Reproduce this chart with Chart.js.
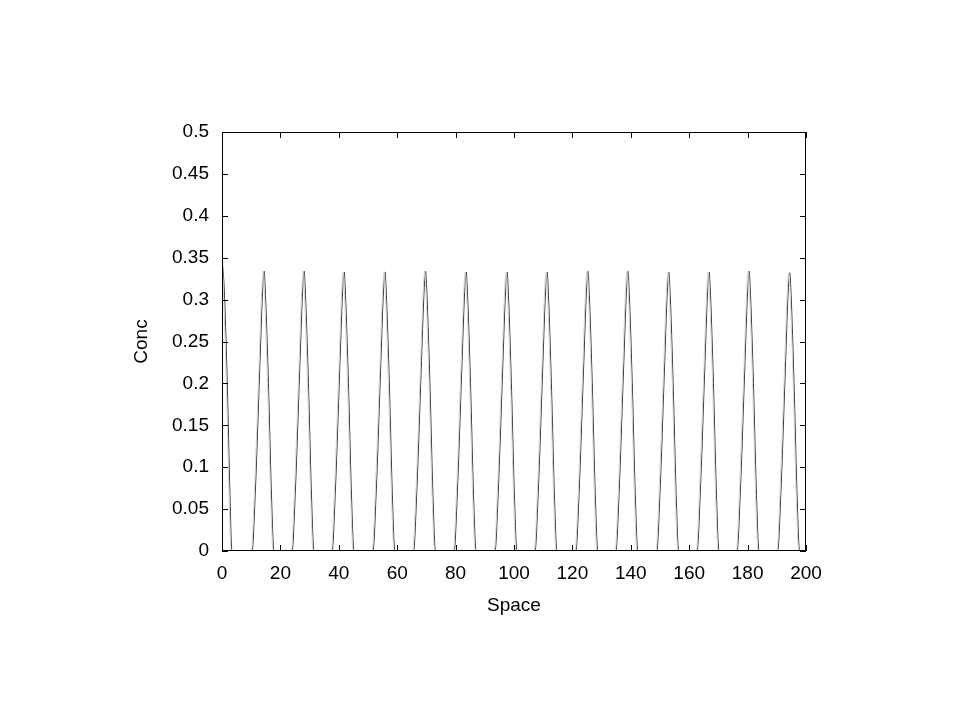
<!DOCTYPE html>
<html>
<head>
<meta charset="utf-8">
<script src="https://cdn.jsdelivr.net/npm/chart.js@4/dist/chart.umd.min.js"></script>
<style>
  body { margin: 0; background: #fff; }
  #wrap { width: 960px; height: 720px; }
</style>
</head>
<body>
<div id="wrap"><canvas id="chart" width="960" height="720"></canvas></div>
<script>
// x positions of the black curve (Space)
const space = [
  0, 0.8, 1.8, 2.7, 3.4,
  10.3, 11.4, 12.9, 13.9, 14.4, 14.9, 15.9, 17.0, 17.8,
  24.0, 25.1, 26.6, 27.6, 28.1, 28.6, 29.6, 30.7, 31.5,
  37.7, 38.8, 40.3, 41.3, 41.8, 42.3, 43.3, 44.4, 45.2,
  51.7, 52.8, 54.3, 55.3, 55.8, 56.3, 57.3, 58.4, 59.2,
  65.6, 66.7, 68.2, 69.2, 69.7, 70.2, 71.2, 72.3, 73.1,
  79.5, 80.6, 82.1, 83.1, 83.6, 84.1, 85.1, 86.2, 87.0,
  93.5, 94.6, 96.1, 97.1, 97.6, 98.1, 99.1, 100.2, 101.0,
  107.2, 108.3, 109.8, 110.8, 111.3, 111.8, 112.8, 113.9, 114.7,
  121.2, 122.3, 123.8, 124.8, 125.3, 125.8, 126.8, 127.9, 128.7,
  134.9, 136.0, 137.5, 138.5, 139.0, 139.5, 140.5, 141.6, 142.4,
  148.9, 150.0, 151.5, 152.5, 153.0, 153.5, 154.5, 155.6, 156.4,
  162.7, 163.8, 165.3, 166.3, 166.8, 167.3, 168.3, 169.4, 170.2,
  176.4, 177.5, 179.0, 180.0, 180.5, 181.0, 182.0, 183.1, 183.9,
  190.3, 191.4, 192.9, 193.9, 194.4, 194.9, 195.9, 197.0, 197.8,
  200
];

// x positions of the grey curve, a little to the left
const spaceGrey = [
  0, 0.5, 1.5, 2.4, 3.1,
  10.0, 11.1, 12.6, 13.6, 14.1, 14.6, 15.6, 16.7, 17.5,
  23.7, 24.8, 26.3, 27.3, 27.8, 28.3, 29.3, 30.4, 31.2,
  37.4, 38.5, 40.0, 41.0, 41.5, 42.0, 43.0, 44.1, 44.9,
  51.4, 52.5, 54.0, 55.0, 55.5, 56.0, 57.0, 58.1, 58.9,
  65.3, 66.4, 67.9, 68.9, 69.4, 69.9, 70.9, 72.0, 72.8,
  79.2, 80.3, 81.8, 82.8, 83.3, 83.8, 84.8, 85.9, 86.7,
  93.2, 94.3, 95.8, 96.8, 97.3, 97.8, 98.8, 99.9, 100.7,
  106.9, 108.0, 109.5, 110.5, 111.0, 111.5, 112.5, 113.6, 114.4,
  120.9, 122.0, 123.5, 124.5, 125.0, 125.5, 126.5, 127.6, 128.4,
  134.6, 135.7, 137.2, 138.2, 138.7, 139.2, 140.2, 141.3, 142.1,
  148.6, 149.7, 151.2, 152.2, 152.7, 153.2, 154.2, 155.3, 156.1,
  162.4, 163.5, 165.0, 166.0, 166.5, 167.0, 168.0, 169.1, 169.9,
  176.1, 177.2, 178.7, 179.7, 180.2, 180.7, 181.7, 182.8, 183.6,
  190.0, 191.1, 192.6, 193.6, 194.1, 194.6, 195.6, 196.7, 197.5,
  200
];

// concentration values (same read for both curves)
const conc = [
  0.35, 0.31, 0.20, 0.07, 0,
  0, 0.07, 0.215, 0.31, 0.334, 0.305, 0.20, 0.06, 0,
  0, 0.07, 0.215, 0.31, 0.334, 0.305, 0.20, 0.06, 0,
  0, 0.07, 0.215, 0.31, 0.333, 0.305, 0.20, 0.06, 0,
  0, 0.07, 0.215, 0.31, 0.333, 0.305, 0.20, 0.06, 0,
  0, 0.07, 0.215, 0.31, 0.334, 0.305, 0.20, 0.06, 0,
  0, 0.07, 0.215, 0.31, 0.333, 0.305, 0.20, 0.06, 0,
  0, 0.07, 0.215, 0.31, 0.333, 0.305, 0.20, 0.06, 0,
  0, 0.07, 0.215, 0.31, 0.333, 0.305, 0.20, 0.06, 0,
  0, 0.07, 0.215, 0.31, 0.334, 0.305, 0.20, 0.06, 0,
  0, 0.07, 0.215, 0.31, 0.334, 0.305, 0.20, 0.06, 0,
  0, 0.07, 0.215, 0.31, 0.333, 0.305, 0.20, 0.06, 0,
  0, 0.07, 0.215, 0.31, 0.333, 0.305, 0.20, 0.06, 0,
  0, 0.07, 0.215, 0.31, 0.334, 0.305, 0.20, 0.06, 0,
  0, 0.07, 0.215, 0.31, 0.332, 0.305, 0.20, 0.06, 0,
  0
];

const xTicks = [0, 20, 40, 60, 80, 100, 120, 140, 160, 180, 200];
const yTicks = [0, 0.05, 0.1, 0.15, 0.2, 0.25, 0.3, 0.35, 0.4, 0.45, 0.5];

const FONT = { family: '"Liberation Sans", Arial, Helvetica, sans-serif', size: 19 };

// frame on all four sides with gnuplot-like inward ticks
const framePlugin = {
  id: 'frame',
  afterDraw(chart) {
    const { ctx, chartArea: a, scales } = chart;
    const len = 6;
    ctx.save();
    ctx.strokeStyle = '#000';
    ctx.lineWidth = 1;
    ctx.beginPath();
    ctx.rect(a.left + 0.5, a.top + 0.5, a.right - a.left - 1, a.bottom - a.top - 1);
    xTicks.forEach((v) => {
      const px = Math.round(scales.x.getPixelForValue(v)) + 0.5;
      ctx.moveTo(px, a.bottom);
      ctx.lineTo(px, a.bottom - len);
      ctx.moveTo(px, a.top);
      ctx.lineTo(px, a.top + len);
    });
    yTicks.forEach((v) => {
      const py = Math.round(scales.y.getPixelForValue(v)) + 0.5;
      ctx.moveTo(a.left, py);
      ctx.lineTo(a.left + len, py);
      ctx.moveTo(a.right, py);
      ctx.lineTo(a.right - len, py);
    });
    ctx.stroke();
    ctx.restore();
  }
};

const toPoints = (xs, ys) => xs.map((x, i) => ({ x: x, y: ys[i] }));

new Chart(document.getElementById('chart'), {
  type: 'line',
  data: {
    datasets: [
      {
        data: toPoints(spaceGrey, conc),
        borderColor: '#d4d4d4',
        borderWidth: 1,
        pointRadius: 0,
        cubicInterpolationMode: 'monotone',
        fill: false
      },
      {
        data: toPoints(space, conc),
        borderColor: '#1a1a1a',
        borderWidth: 0.9,
        pointRadius: 0,
        cubicInterpolationMode: 'monotone',
        fill: false
      }
    ]
  },
  options: {
    responsive: false,
    animation: false,
    layout: { padding: { left: 100, right: 154, top: 132, bottom: 99 } },
    plugins: {
      legend: { display: false },
      tooltip: { enabled: false }
    },
    scales: {
      x: {
        type: 'linear',
        min: 0,
        max: 200,
        afterFit(scale) { scale.height = 70; },
        afterBuildTicks(scale) { scale.ticks = xTicks.map((v) => ({ value: v })); },
        grid: { display: false, drawTicks: false },
        border: { display: false },
        ticks: { color: '#000', font: FONT, padding: 11, maxRotation: 0 },
        title: { display: true, text: 'Space', color: '#000', font: FONT, padding: { top: 5 } }
      },
      y: {
        type: 'linear',
        min: 0,
        max: 0.5,
        afterFit(scale) { scale.width = 122; },
        afterBuildTicks(scale) { scale.ticks = yTicks.map((v) => ({ value: v })); },
        grid: { display: false, drawTicks: false },
        border: { display: false },
        ticks: {
          color: '#000',
          font: FONT,
          padding: 13,
          callback: (v) => String(parseFloat(Number(v).toFixed(2)))
        },
        title: { display: true, text: 'Conc', color: '#000', font: FONT, padding: { top: 30, bottom: 0 } }
      }
    }
  },
  plugins: [framePlugin]
});
</script>
</body>
</html>
